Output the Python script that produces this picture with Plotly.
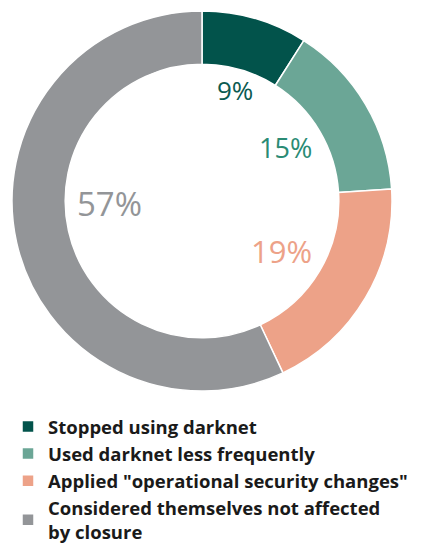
import plotly.graph_objects as go

categories = [
    "Stopped using darknet",
    "Used darknet less frequently",
    'Applied "operational security changes"',
    "Considered themselves not affected<br>by closure",
]
values = [9, 15, 19, 57]
slice_colors = ["#02534B", "#6BA696", "#EDA288", "#939598"]
label_colors = ["#0B5B51", "#2A8B74", "#EDA288", "#939598"]

W, H = 436, 543
OFF = 8  # page body margin shifts the figure by 8px

fig = go.Figure(
    go.Pie(
        labels=categories,
        values=values,
        hole=0.72,
        sort=False,
        direction="clockwise",
        rotation=0,
        marker=dict(colors=slice_colors, line=dict(color="white", width=1.5)),
        textinfo="none",
        hoverinfo="label+percent",
        domain=dict(x=[(12 - OFF) / W, (392 - OFF) / W],
                    y=[1 - (391 - OFF) / H, 1 - (11 - OFF) / H]),
    )
)

# percentage labels sit inside the hole next to their slice
label_pos = [(235, 90, 26), (285, 147, 27), (281, 251, 31), (109, 203, 33)]
for v, col, (px_, py_, fs) in zip(values, label_colors, label_pos):
    fig.add_annotation(
        x=(px_ - OFF) / W, y=1 - (py_ - OFF) / H, xref="paper", yref="paper",
        xanchor="center", yanchor="middle",
        text=f"{v}%", showarrow=False,
        font=dict(family="Open Sans", size=fs, color=col),
    )

fig.update_layout(
    width=W,
    height=H,
    margin=dict(l=0, r=0, t=0, b=0, autoexpand=False),
    paper_bgcolor="white",
    plot_bgcolor="white",
    showlegend=True,
    legend=dict(
        x=0,
        xanchor="left",
        y=1 - 400 / H,
        yanchor="top",
        font=dict(family="Open Sans", size=18.5, color="#1a1a1a", weight="bold"),
        tracegroupgap=0,
        itemclick=False,
    ),
)

fig.write_html("out.html")
